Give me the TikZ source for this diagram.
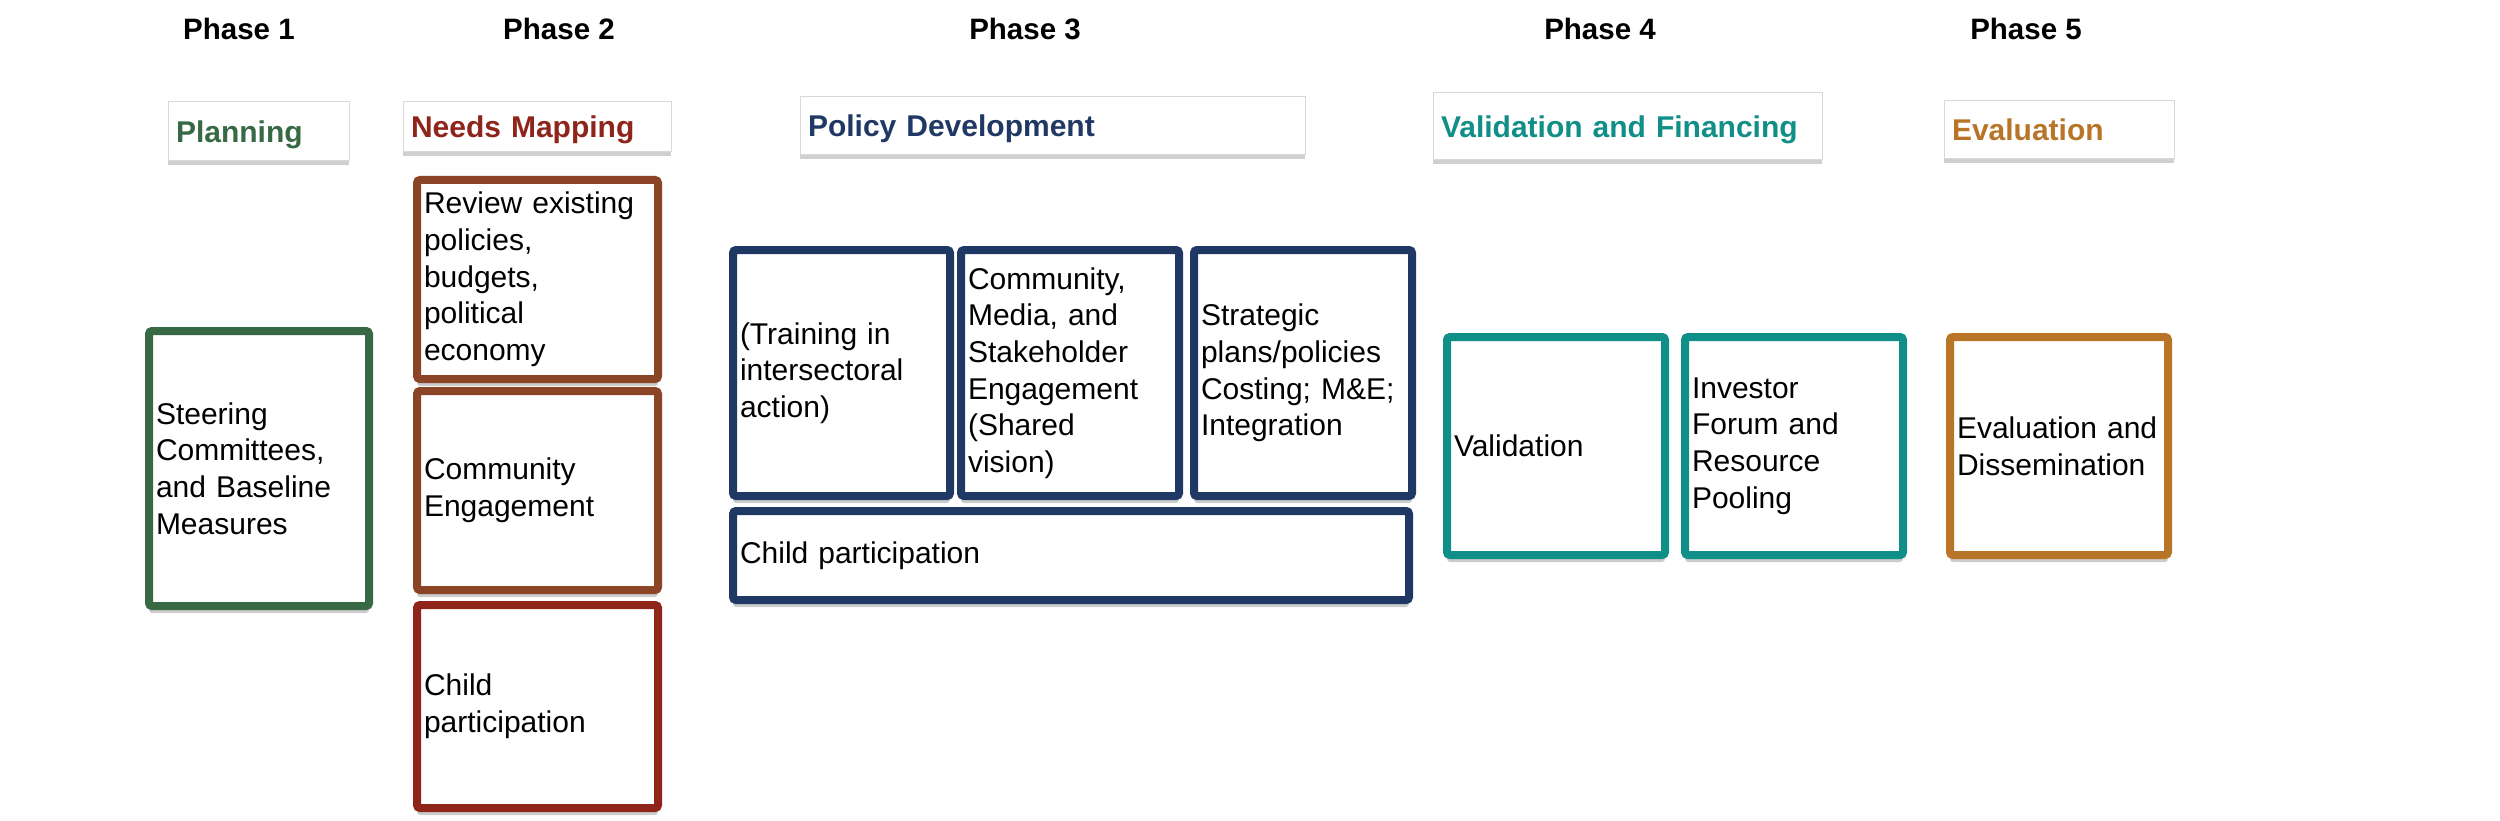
\documentclass[tikz,border=0pt]{standalone}
\usepackage{fontspec}
\setmainfont{Liberation Sans}
\usetikzlibrary{shadows}
\definecolor{cgreen}{RGB}{55,105,68}
\definecolor{cbrown}{RGB}{139,68,38}
\definecolor{cred}{RGB}{142,36,26}
\definecolor{cnavy}{RGB}{32,56,100}
\definecolor{cteal}{RGB}{16,142,136}
\definecolor{cochre}{RGB}{184,117,39}
\tikzset{
  every node/.style={font=\fontsize{30}{36.7}\selectfont},
  phase/.style={font=\fontsize{29.5}{34}\selectfont\bfseries, anchor=base, inner sep=0pt},
  hdr/.style={draw=black!15, line width=1pt, fill=white,
    font=\fontsize{30}{36}\selectfont\bfseries, align=left,
    inner xsep=8pt, inner ysep=0pt, text height=22pt, text depth=0pt,
    drop shadow={shadow xshift=0pt, shadow yshift=-4pt, opacity=0.3, fill=black!60}},
  cbox/.style={line width=8pt, fill=white, rounded corners=3pt, align=left,
    inner xsep=7pt, inner ysep=0pt,
    drop shadow={shadow xshift=0pt, shadow yshift=-7pt, opacity=0.2, fill=black}},
}
\begin{document}
\begin{tikzpicture}[x=1pt, y=-1pt]
\fill[white] (0,0) rectangle (2500,821);
\useasboundingbox (0,0) rectangle (2500,821);

% phase labels
\node[phase] (p1) at (239,40) {Phase 1};
\node[phase] (p2) at (559,40) {Phase 2};
\node[phase] (p3) at (1025,40) {Phase 3};
\node[phase] (p4) at (1600,40) {Phase 4};
\node[phase] (p5) at (2026,40) {Phase 5};

% header boxes
\node[hdr, text=cgreen, minimum width=181pt, text width=165pt, minimum height=59pt] (hplan) at (258.5,131.5) {Planning};
\node[hdr, text=cred, minimum width=268pt, text width=252pt, minimum height=50pt] (hneeds) at (537,127) {Needs Mapping};
\node[hdr, text=cnavy, minimum width=505pt, text width=489pt, minimum height=58pt] (hpolicy) at (1052.5,126) {Policy Development};
\node[hdr, text=cteal, minimum width=389pt, text width=373pt, minimum height=67pt] (hvf) at (1627.5,126.5) {Validation and Financing};
\node[hdr, text=cochre, minimum width=230pt, text width=214pt, minimum height=58pt] (heval) at (2059,130) {Evaluation};

% phase 1
\node[cbox, draw=cgreen, minimum width=220pt, text width=206pt, minimum height=275pt] (steer) at (259,468.5) {Steering\\Committees,\\and Baseline\\Measures};

% phase 2
\node[cbox, draw=cbrown, minimum width=241pt, text width=227pt, minimum height=199pt] (review) at (537.5,279.5) {Review existing\\policies,\\budgets,\\political\\economy};
\node[cbox, draw=cbrown, minimum width=241pt, text width=227pt, minimum height=199pt] (commeng) at (537.5,490.5) {Community\\Engagement};
\node[cbox, draw=cred, minimum width=241pt, text width=227pt, minimum height=203pt] (childa) at (537.5,706.5) {Child\\participation};

% phase 3
\node[cbox, draw=cnavy, minimum width=217pt, text width=203pt, minimum height=246pt] (train) at (841.5,373) {(Training in\\intersectoral\\action)};
\node[cbox, draw=cnavy, minimum width=218pt, text width=204pt, minimum height=246pt] (cmse) at (1070,373) {Community,\\Media, and\\Stakeholder\\Engagement\\(Shared\\vision)};
\node[cbox, draw=cnavy, minimum width=218pt, text width=204pt, minimum height=246pt] (strat) at (1303,373) {Strategic\\plans/policies\\Costing; M\&E;\\Integration};
\node[cbox, draw=cnavy, minimum width=676pt, text width=662pt, minimum height=89pt] (childb) at (1071,555.5) {Child participation};

% phase 4
\node[cbox, draw=cteal, minimum width=218pt, text width=204pt, minimum height=218pt] (valid) at (1556,446) {Validation};
\node[cbox, draw=cteal, minimum width=218pt, text width=204pt, minimum height=218pt] (invest) at (1794,446) {Investor\\Forum and\\Resource\\Pooling};

% phase 5
\node[cbox, draw=cochre, minimum width=218pt, text width=204pt, minimum height=218pt] (evaldis) at (2059,446) {Evaluation and\\Dissemination};
\end{tikzpicture}
\end{document}
